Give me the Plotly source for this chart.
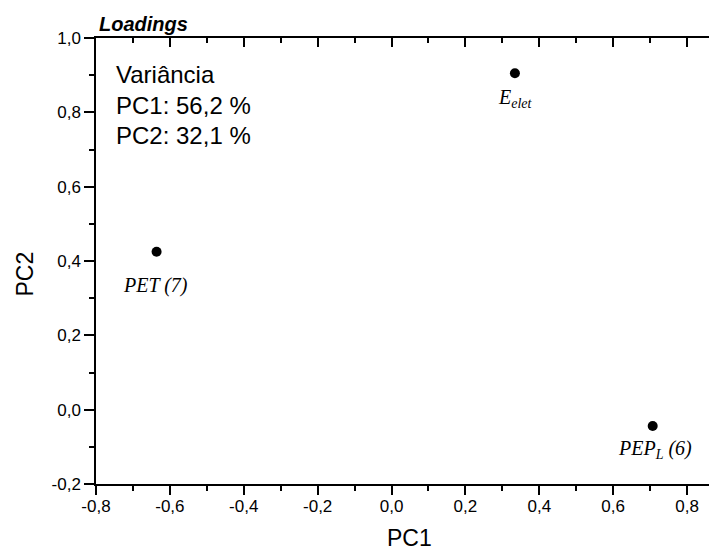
import plotly.graph_objects as go

# ---- data ----
point_names = ["PET (7)", "E<sub>elet</sub>", "PEP<sub>L</sub> (6)"]
pc1_values = [-0.636, 0.334, 0.707]
pc2_values = [0.425, 0.905, -0.044]

x_tick_vals = [-0.8, -0.6, -0.4, -0.2, 0.0, 0.2, 0.4, 0.6, 0.8]
x_tick_text = ["-0,8", "-0,6", "-0,4", "-0,2", "0,0", "0,2", "0,4", "0,6", "0,8"]
y_tick_vals = [-0.2, 0.0, 0.2, 0.4, 0.6, 0.8, 1.0]
y_tick_text = ["-0,2", "0,0", "0,2", "0,4", "0,6", "0,8", "1,0"]

variance_lines = ["Variância", "PC1: 56,2 %", "PC2: 32,1 %"]
chart_title = "Loadings"
x_title = "PC1"
y_title = "PC2"

# ---- layout constants (page body has an 8px offset) ----
W, H = 717, 550
ML, MT, MB, MR = 88, 30, 74, 1
XR = [-0.8, 0.9]
YR = [-0.2, 1.0]
sans = "Liberation Sans, Arial, Helvetica, sans-serif"
serif = "Liberation Serif, Times New Roman, serif"

# screen -> paper helpers (screen coords of plot area: 96..724, 38..484)
PL, PR, PT, PB = 96, 724, 38, 484
def px(sx):
    return (sx - PL) / (PR - PL)
def py(sy):
    return (PB - sy) / (PB - PT)

x_minor = [round(-0.8 + 0.1 * i, 2) for i in range(18)]
y_minor = [round(-0.2 + 0.1 * i, 2) for i in range(13)]

fig = go.Figure()
fig.add_trace(go.Scatter(
    x=pc1_values, y=pc2_values, mode="markers",
    marker=dict(color="black", size=10),
    hoverinfo="skip", showlegend=False, cliponaxis=False))
# invisible trace to activate the mirror axes
fig.add_trace(go.Scatter(
    x=pc1_values, y=pc2_values, mode="markers", xaxis="x2", yaxis="y2",
    marker=dict(opacity=0), hoverinfo="skip", showlegend=False))

axis_common = dict(showgrid=False, zeroline=False, linecolor="black",
                   linewidth=1.5, tickcolor="black", tickwidth=1.5)

fig.update_layout(
    width=W, height=H,
    margin=dict(l=ML, r=MR, t=MT, b=MB, pad=0),
    paper_bgcolor="white", plot_bgcolor="white",
    font=dict(family=sans, color="black", size=17),
    xaxis=dict(range=XR, **axis_common, showline=True, ticks="outside", ticklen=9,
               tickmode="array", tickvals=x_tick_vals, ticktext=x_tick_text,
               tickfont=dict(size=17, family=sans), ticklabelstandoff=-3,
               minor=dict(tickmode="array", tickvals=x_minor, ticks="outside",
                          ticklen=5, tickcolor="black", tickwidth=1.5)),
    yaxis=dict(range=YR, **axis_common, showline=True, ticks="outside", ticklen=10,
               tickmode="array", tickvals=y_tick_vals, ticktext=y_tick_text,
               tickfont=dict(size=17, family=sans),
               minor=dict(tickmode="array", tickvals=y_minor, ticks="outside",
                          ticklen=5, tickcolor="black", tickwidth=1.5)),
    xaxis2=dict(range=XR, overlaying="x", side="top", anchor="y", **axis_common,
                showline=True, ticks="inside", ticklen=9, showticklabels=False,
                tickmode="array", tickvals=x_tick_vals,
                minor=dict(tickmode="array", tickvals=x_minor, ticks="inside",
                           ticklen=5, tickcolor="black", tickwidth=1.5)),
    yaxis2=dict(range=YR, overlaying="y", side="right", anchor="x", **axis_common,
                showline=True, ticks="inside", ticklen=10, showticklabels=False,
                tickmode="array", tickvals=y_tick_vals,
                minor=dict(tickmode="array", tickvals=y_minor, ticks="inside",
                           ticklen=5, tickcolor="black", tickwidth=1.5)),
)

ann = []
# point labels
label_shift = [-34, -25, -23]
label_xshift = [-1, 1, 2]
for name, xv, yv, dy, dx in zip(point_names, pc1_values, pc2_values, label_shift, label_xshift):
    ann.append(dict(x=xv, y=yv, xref="x", yref="y", text=name, showarrow=False,
                    xanchor="center", yanchor="middle", yshift=dy, xshift=dx,
                    font=dict(family=serif, size=20, style="italic", color="black")))
# variance text
var_y = [74.5, 105, 136]
for t, sy in zip(variance_lines, var_y):
    ann.append(dict(x=px(114), y=py(sy), xref="paper", yref="paper", text=t,
                    showarrow=False, xanchor="left", yanchor="middle",
                    font=dict(family=sans, size=24, color="black")))
# title
ann.append(dict(x=px(97), y=py(24.5), xref="paper", yref="paper",
                text="<b><i>" + chart_title + "</i></b>",
                showarrow=False, xanchor="left", yanchor="middle",
                font=dict(family=sans, size=20, color="black")))
# axis titles
ann.append(dict(x=px(409), y=py(538), xref="paper", yref="paper", xanchor="center",
                yanchor="middle", text=x_title, showarrow=False,
                font=dict(family=sans, size=23, color="black")))
ann.append(dict(x=px(24), y=py(274.5), xref="paper", yref="paper", text=y_title,
                showarrow=False, textangle=-90, xanchor="center", yanchor="middle",
                font=dict(family=sans, size=23, color="black")))
fig.update_layout(annotations=ann)

fig.write_html("out.html")
